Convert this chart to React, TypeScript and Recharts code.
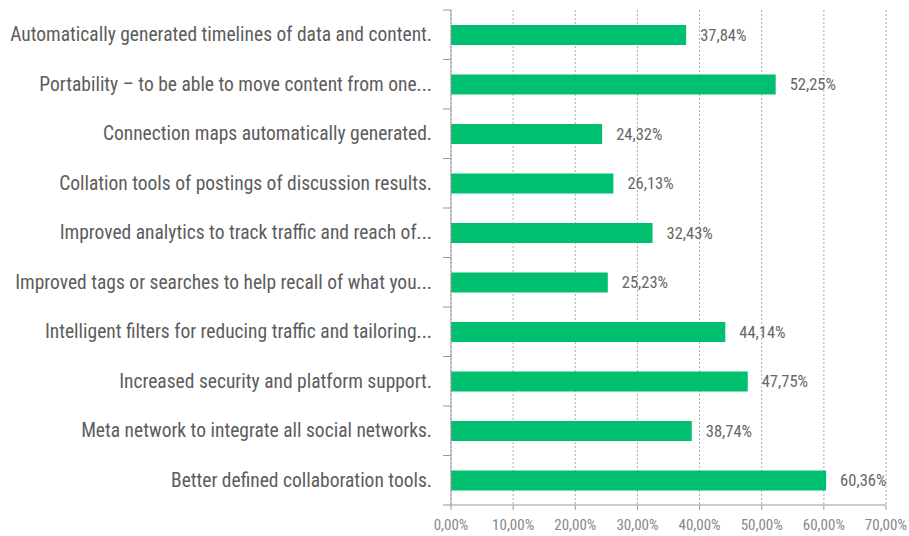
import React from 'react';
import { BarChart, Bar, XAxis, YAxis, CartesianGrid, LabelList } from 'recharts';

const categories = [
  'Automatically generated timelines of data and content.',
  'Portability \u2013 to be able to move content from one...',
  'Connection maps automatically generated.',
  'Collation tools of postings of discussion results.',
  'Improved analytics to track traffic and reach of...',
  'Improved tags or searches to help recall of what you...',
  'Intelligent filters for reducing traffic and tailoring...',
  'Increased security and platform support.',
  'Meta network to integrate all social networks.',
  'Better defined collaboration tools.',
];
const values = [37.84, 52.25, 24.32, 26.13, 32.43, 25.23, 44.14, 47.75, 38.74, 60.36];
const xTicks = [0, 10, 20, 30, 40, 50, 60, 70];

const data = categories.map((name, i) => ({ name, value: values[i] }));

const FONT = "'Liberation Sans Narrow', 'Roboto Condensed', Roboto, sans-serif";
const fmt = (v: number) => v.toFixed(2).replace('.', ',') + '%';

const PLOT_TOP = 10;
const PLOT_BOTTOM_MARGIN = 31;
const CHART_H = 536;
const BAND = (CHART_H - PLOT_TOP - PLOT_BOTTOM_MARGIN) / categories.length;

const YTick = (props: any) => {
  const { x, y, payload, index } = props;
  const axisX = x + 8;
  return (
    <g>
      <line x1={axisX - 8} x2={axisX} y1={y - BAND / 2} y2={y - BAND / 2} stroke="#999" />
      {index === categories.length - 1 && (
        <line x1={axisX - 8} x2={axisX} y1={y + BAND / 2} y2={y + BAND / 2} stroke="#999" />
      )}
      <text x={axisX - 19} y={y} dy={6.5} textAnchor="end" fill="#5c5c5c" fontSize={19.5} fontFamily={FONT}>
        {payload.value}
      </text>
    </g>
  );
};

export default function App() {
  return (
    <div style={{ position: 'fixed', left: 0, top: 0, background: '#fff' }}>
      <BarChart
        width={909}
        height={CHART_H}
        data={data}
        layout="vertical"
        margin={{ top: PLOT_TOP, right: 23, bottom: 0, left: 0 }}
        barCategoryGap={0}
      >
        <CartesianGrid horizontal={false} stroke="#aaa" strokeDasharray="2 2" />
        <XAxis
          type="number"
          domain={[0, 70]}
          ticks={xTicks}
          tickFormatter={fmt}
          axisLine={{ stroke: '#999' }}
          tickLine={{ stroke: '#999' }}
          tickSize={5}
          tickMargin={9}
          height={PLOT_BOTTOM_MARGIN}
          tick={{ fill: '#888', fontSize: 15, fontFamily: FONT }}
        />
        <YAxis
          type="category"
          dataKey="name"
          width={451}
          axisLine={{ stroke: '#999' }}
          tickLine={false}
          tick={<YTick />}
          interval={0}
        />
        <Bar dataKey="value" fill="#00BF6F" barSize={20} isAnimationActive={false}>
          <LabelList
            dataKey="value"
            position="right"
            offset={14}
            formatter={fmt}
            fill="#666"
            fontSize={16.5}
            fontFamily={FONT}
          />
        </Bar>
      </BarChart>
    </div>
  );
}
